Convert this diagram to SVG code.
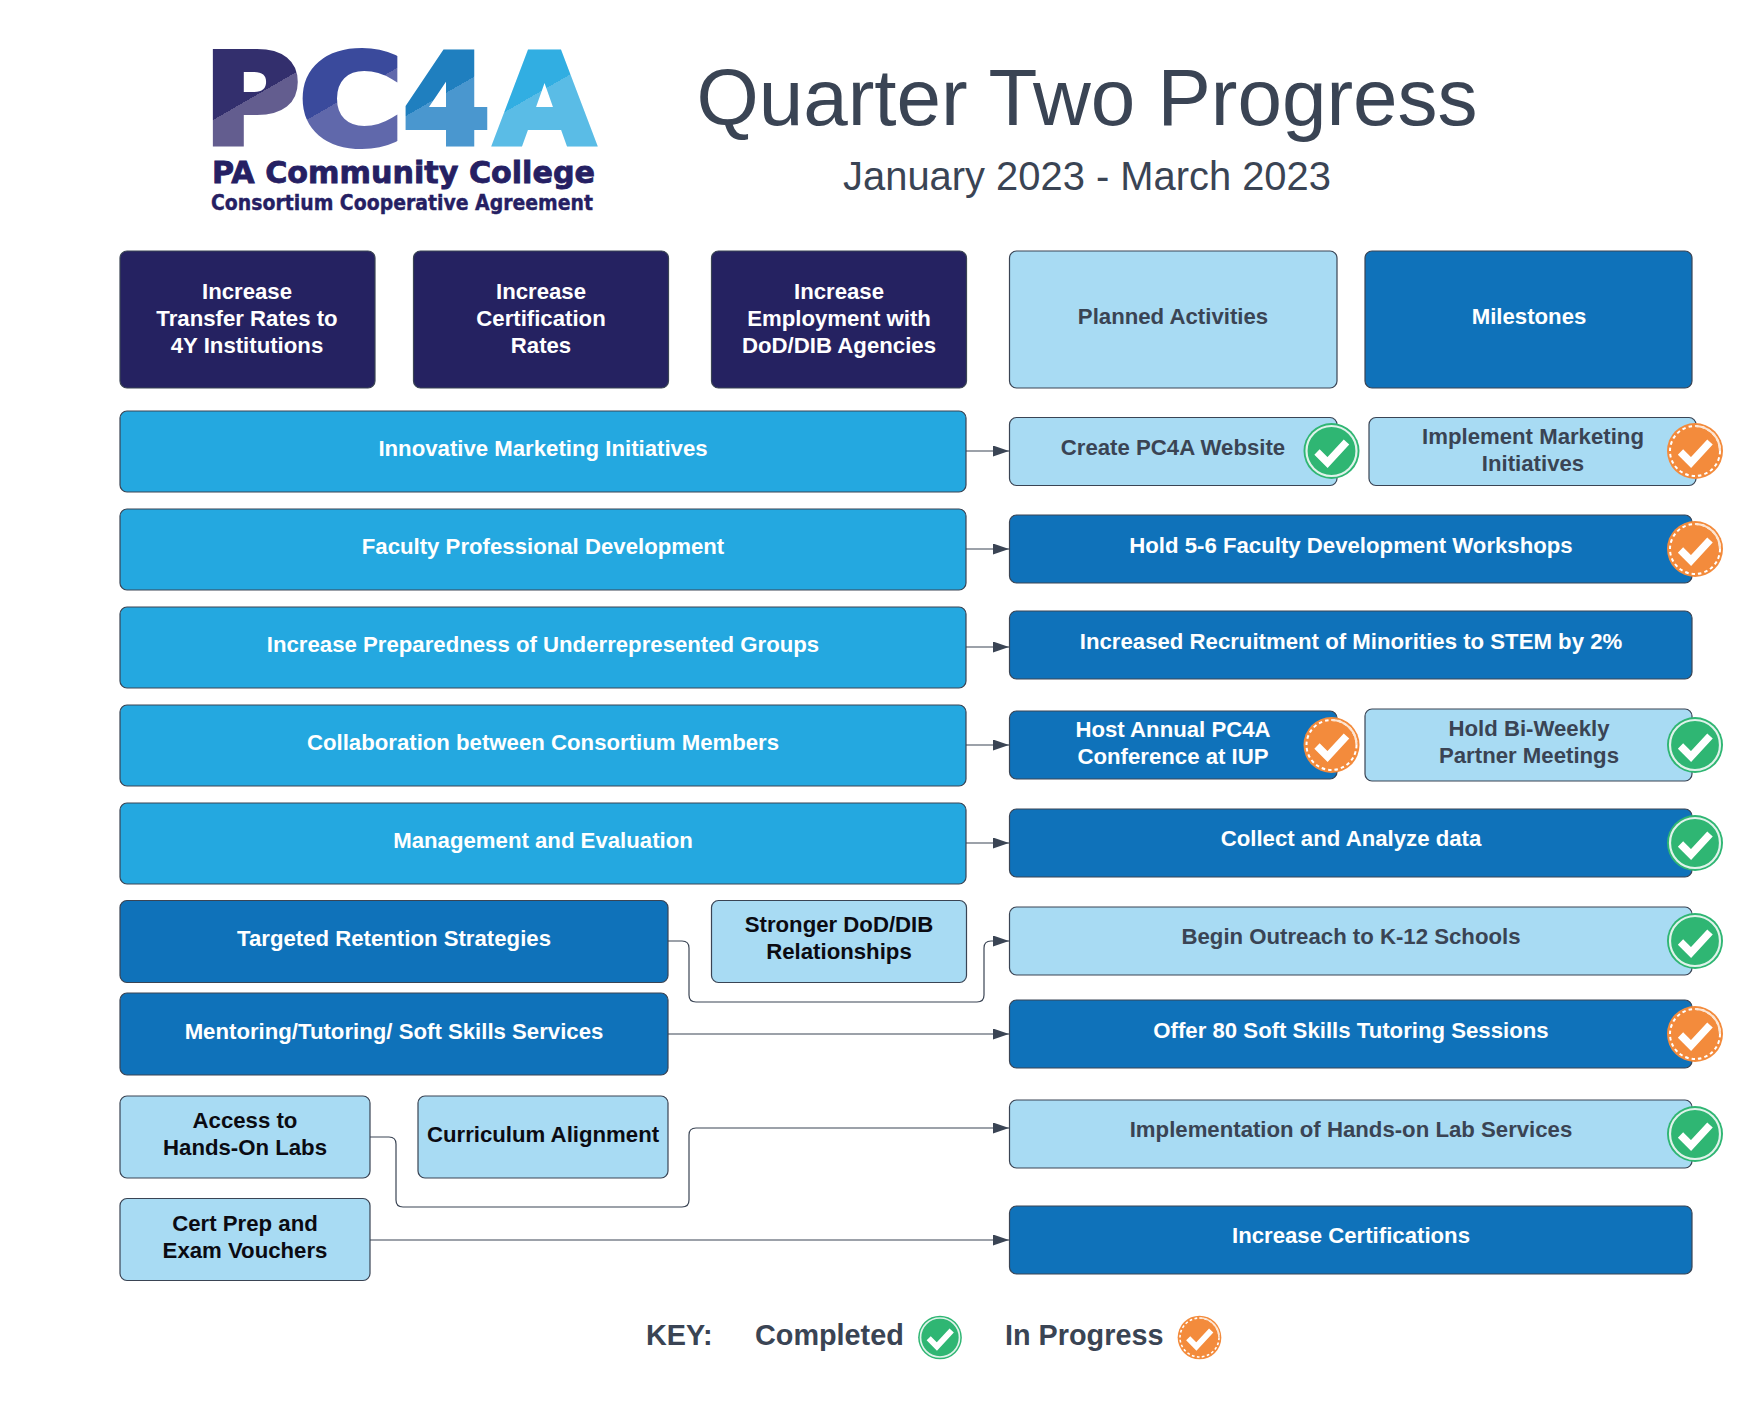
<svg xmlns="http://www.w3.org/2000/svg" xmlns:xlink="http://www.w3.org/1999/xlink" width="1764" height="1417" viewBox="0 0 1764 1417">
<style>
text{font-family:"Liberation Sans",Arial,sans-serif}
.b{stroke:#3a4454;stroke-width:1.2}
.navy{fill:#252261}.bright{fill:#24a8e0}.mid{fill:#0f72ba}.light{fill:#a8dbf3}
.t{font-size:22.2px;font-weight:700;text-anchor:middle}
.w{fill:#fff}.d{fill:#3a4454}.k{fill:#0b0b12}
.c{fill:none;stroke:#3a4454;stroke-width:1.2}
.logo text{font-family:"DejaVu Sans",sans-serif;font-weight:700}
.key{font-size:28.8px;font-weight:700;fill:#3a4454}
</style>
<defs>
<marker id="arr" markerUnits="userSpaceOnUse" markerWidth="16" markerHeight="11" refX="16" refY="5.5" orient="auto"><path d="M0 0L16 5.5L0 11z" fill="#3a4454"/></marker>
<linearGradient id="gP" gradientUnits="userSpaceOnUse" x1="163" y1="33" x2="263" y2="207"><stop offset=".5" stop-color="#332f6d"/><stop offset=".5" stop-color="#635d8f"/></linearGradient>
<linearGradient id="gC" gradientUnits="userSpaceOnUse" x1="260" y1="31" x2="360" y2="205"><stop offset=".5" stop-color="#3a4a9c"/><stop offset=".5" stop-color="#6068ab"/></linearGradient>
<linearGradient id="g4" gradientUnits="userSpaceOnUse" x1="354" y1="30" x2="454" y2="204"><stop offset=".5" stop-color="#1f7fbf"/><stop offset=".5" stop-color="#4a97cf"/></linearGradient>
<linearGradient id="gA" gradientUnits="userSpaceOnUse" x1="453" y1="26" x2="553" y2="200"><stop offset=".5" stop-color="#31aee2"/><stop offset=".5" stop-color="#5abce6"/></linearGradient>
<g id="done"><circle r="28" fill="#2fb673"/><circle r="25" fill="none" stroke="#dff3ea" stroke-width="2.2"/><path d="M-14.500 1L-4 11.500L15 -9" fill="none" stroke="#fff" stroke-width="7.500"/></g>
<g id="prog"><circle r="28" fill="#f38b3c"/><circle r="25" fill="none" stroke="#fff" stroke-width="2" stroke-dasharray="3.500 3"/><path d="M0 -25A25 25 0 0 1 25 0" fill="none" stroke="#fde5d2" stroke-width="2.200"/><path d="M-14.500 1L-4 11.500L15 -9" fill="none" stroke="#fff" stroke-width="7.500"/></g>
</defs>
<rect width="1764" height="1417" fill="#fff"/>
<g id="logo" class="logo">
<text x="204" y="144" font-size="125" fill="url(#gP)" stroke="url(#gP)" stroke-width="6" textLength="96" lengthAdjust="spacingAndGlyphs">P</text>
<text x="299" y="144" font-size="125" fill="url(#gC)" stroke="url(#gC)" stroke-width="6" textLength="104" lengthAdjust="spacingAndGlyphs">C</text>
<text x="403" y="144" font-size="125" fill="url(#g4)" stroke="url(#g4)" stroke-width="6" textLength="87" lengthAdjust="spacingAndGlyphs">4</text>
<text x="495" y="144" font-size="125" fill="url(#gA)" stroke="url(#gA)" stroke-width="6" textLength="99" lengthAdjust="spacingAndGlyphs">A</text>
<text x="212" y="183" font-size="30" fill="#252063" stroke="#252063" stroke-width=".8" textLength="383" lengthAdjust="spacingAndGlyphs">PA Community College</text>
<text x="211" y="210" font-size="21" fill="#252063" stroke="#252063" stroke-width=".4" textLength="382" lengthAdjust="spacingAndGlyphs">Consortium Cooperative Agreement</text>
</g>
<g id="title">
<text x="1087" y="125" font-size="80" text-anchor="middle" fill="#3a4454">Quarter Two Progress</text>
<text x="1087" y="190" font-size="39.900" text-anchor="middle" fill="#3a4454">January 2023 - March 2023</text>
</g>
<g id="connectors">
<path class="c" marker-end="url(#arr)" d="M966 451H1009"/>
<path class="c" marker-end="url(#arr)" d="M966 549H1009"/>
<path class="c" marker-end="url(#arr)" d="M966 647H1009"/>
<path class="c" marker-end="url(#arr)" d="M966 745H1009"/>
<path class="c" marker-end="url(#arr)" d="M966 843H1009"/>
<path class="c" marker-end="url(#arr)" d="M668 941H682Q689 941 689 948V995Q689 1002 696 1002H977Q984 1002 984 995V948Q984 941 991 941H1009"/>
<path class="c" marker-end="url(#arr)" d="M668 1034H1009"/>
<path class="c" marker-end="url(#arr)" d="M370 1137H389Q396 1137 396 1144V1200Q396 1207 403 1207H682Q689 1207 689 1200V1135Q689 1128 696 1128H1009"/>
<path class="c" marker-end="url(#arr)" d="M370 1240H1009"/>
</g>
<g id="n-h1"><rect class="b navy" x="120" y="251" width="255" height="137" rx="7"/><text class="t w"><tspan x="247" y="299">Increase</tspan><tspan x="247" y="326">Transfer Rates to</tspan><tspan x="247" y="353">4Y Institutions</tspan></text></g>
<g id="n-h2"><rect class="b navy" x="413.500" y="251" width="255" height="137" rx="7"/><text class="t w"><tspan x="541" y="299">Increase</tspan><tspan x="541" y="326">Certification</tspan><tspan x="541" y="353">Rates</tspan></text></g>
<g id="n-h3"><rect class="b navy" x="711.500" y="251" width="255" height="137" rx="7"/><text class="t w"><tspan x="839" y="299">Increase</tspan><tspan x="839" y="326">Employment with</tspan><tspan x="839" y="353">DoD/DIB Agencies</tspan></text></g>
<g id="n-planned"><rect class="b light" x="1009.500" y="251" width="327.500" height="137" rx="7"/><text class="t d" x="1173" y="324">Planned Activities</text></g>
<g id="n-milestones"><rect class="b mid" x="1365" y="251" width="327" height="137" rx="7"/><text class="t w" x="1529" y="324">Milestones</text></g>
<g id="n-l1"><rect class="b bright" x="120" y="411" width="846" height="81" rx="7"/><text class="t w" x="543" y="456">Innovative Marketing Initiatives</text></g>
<g id="n-l2"><rect class="b bright" x="120" y="509" width="846" height="81" rx="7"/><text class="t w" x="543" y="554">Faculty Professional Development</text></g>
<g id="n-l3"><rect class="b bright" x="120" y="607" width="846" height="81" rx="7"/><text class="t w" x="543" y="652">Increase Preparedness of Underrepresented Groups</text></g>
<g id="n-l4"><rect class="b bright" x="120" y="705" width="846" height="81" rx="7"/><text class="t w" x="543" y="750">Collaboration between Consortium Members</text></g>
<g id="n-l5"><rect class="b bright" x="120" y="803" width="846" height="81" rx="7"/><text class="t w" x="543" y="848">Management and Evaluation</text></g>
<g id="n-l6"><rect class="b mid" x="120" y="900.500" width="548" height="82" rx="7"/><text class="t w" x="394" y="946">Targeted Retention Strategies</text></g>
<g id="n-l7"><rect class="b light" x="711.500" y="900.500" width="255" height="82" rx="7"/><text class="t k"><tspan x="839" y="932">Stronger DoD/DIB</tspan><tspan x="839" y="959">Relationships</tspan></text></g>
<g id="n-l8"><rect class="b mid" x="120" y="993" width="548" height="82" rx="7"/><text class="t w" x="394" y="1039">Mentoring/Tutoring/ Soft Skills Services</text></g>
<g id="n-l9"><rect class="b light" x="120" y="1096" width="250" height="82" rx="7"/><text class="t k"><tspan x="245" y="1128">Access to</tspan><tspan x="245" y="1155">Hands-On Labs</tspan></text></g>
<g id="n-l10"><rect class="b light" x="418" y="1096" width="250" height="82" rx="7"/><text class="t k" x="543" y="1142">Curriculum Alignment</text></g>
<g id="n-l11"><rect class="b light" x="120" y="1198.500" width="250" height="82" rx="7"/><text class="t k"><tspan x="245" y="1231">Cert Prep and</tspan><tspan x="245" y="1258">Exam Vouchers</tspan></text></g>
<g id="n-r1"><rect class="b light" x="1009.500" y="417.500" width="327.500" height="68" rx="7"/><text class="t d" x="1173" y="455">Create PC4A Website</text><use xlink:href="#done" href="#done" x="1331.500" y="451"/></g>
<g id="n-r2"><rect class="b light" x="1369" y="417.500" width="327" height="68" rx="7"/><text class="t d"><tspan x="1533" y="444">Implement Marketing</tspan><tspan x="1533" y="471">Initiatives</tspan></text><use xlink:href="#prog" href="#prog" x="1695" y="451"/></g>
<g id="n-r3"><rect class="b mid" x="1009.500" y="515" width="682.500" height="68" rx="7"/><text class="t w" x="1351" y="553">Hold 5-6 Faculty Development Workshops</text><use xlink:href="#prog" href="#prog" x="1695" y="549"/></g>
<g id="n-r4"><rect class="b mid" x="1009.500" y="611" width="682.500" height="68" rx="7"/><text class="t w" x="1351" y="648.500">Increased Recruitment of Minorities to STEM by 2%</text></g>
<g id="n-r5"><rect class="b mid" x="1009.500" y="711" width="327.500" height="68" rx="7"/><text class="t w"><tspan x="1173" y="737">Host Annual PC4A</tspan><tspan x="1173" y="764">Conference at IUP</tspan></text><use xlink:href="#prog" href="#prog" x="1331.500" y="745"/></g>
<g id="n-r6"><rect class="b light" x="1365" y="709" width="327" height="72" rx="7"/><text class="t d"><tspan x="1529" y="736">Hold Bi-Weekly</tspan><tspan x="1529" y="763">Partner Meetings</tspan></text><use xlink:href="#done" href="#done" x="1695" y="745"/></g>
<g id="n-r7"><rect class="b mid" x="1009.500" y="809" width="682.500" height="68" rx="7"/><text class="t w" x="1351" y="846">Collect and Analyze data</text><use xlink:href="#done" href="#done" x="1695" y="843"/></g>
<g id="n-r8"><rect class="b light" x="1009.500" y="907" width="682.500" height="68" rx="7"/><text class="t d" x="1351" y="944">Begin Outreach to K-12 Schools</text><use xlink:href="#done" href="#done" x="1695" y="941"/></g>
<g id="n-r9"><rect class="b mid" x="1009.500" y="1000" width="682.500" height="68" rx="7"/><text class="t w" x="1351" y="1037.500">Offer 80 Soft Skills Tutoring Sessions</text><use xlink:href="#prog" href="#prog" x="1695" y="1034"/></g>
<g id="n-r10"><rect class="b light" x="1009.500" y="1100" width="682.500" height="68" rx="7"/><text class="t d" x="1351" y="1137">Implementation of Hands-on Lab Services</text><use xlink:href="#done" href="#done" x="1695" y="1134"/></g>
<g id="n-r11"><rect class="b mid" x="1009.500" y="1206" width="682.500" height="68" rx="7"/><text class="t w" x="1351" y="1243">Increase Certifications</text></g>
<g id="key">
<text class="key" x="646" y="1344.500">KEY:</text>
<text class="key" x="755" y="1344.500">Completed</text>
<use xlink:href="#done" href="#done" transform="translate(940 1337.500) scale(.78)"/>
<text class="key" x="1005" y="1344.500">In Progress</text>
<use xlink:href="#prog" href="#prog" transform="translate(1199.500 1337.500) scale(.78)"/>
</g>
</svg>
